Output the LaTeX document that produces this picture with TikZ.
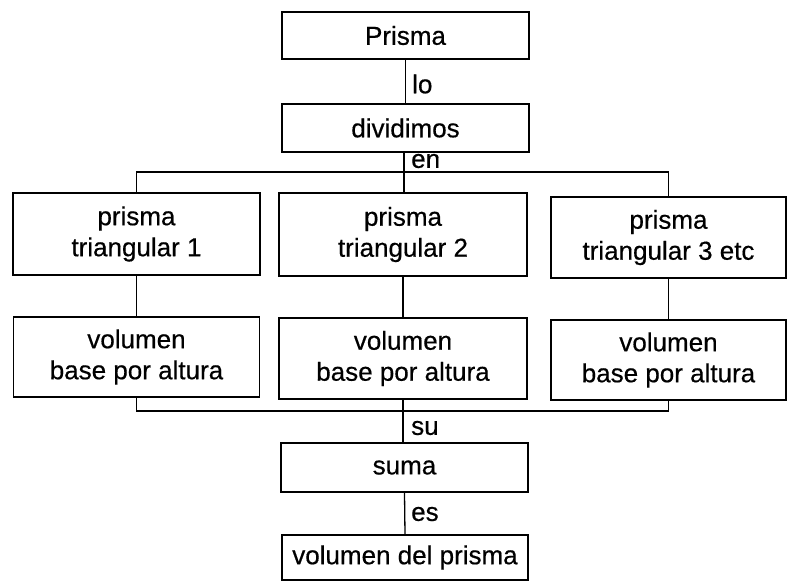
\documentclass[tikz,border=0pt]{standalone}
\usepackage{fontspec}
\newfontfamily\diagfont{Liberation Sans}[BoldFont={Liberation Sans},BoldFeatures={FakeBold=0.5}]
\begin{document}
\begin{tikzpicture}[x=1pt,y=-1pt,
  box/.style={draw=black,line width=1.4pt,rectangle,align=center,inner sep=0pt,
    font=\diagfont\bfseries\fontsize{26}{31}\selectfont},
  conn/.style={draw=black,line width=1.3pt},
  lbl/.style={anchor=west,inner sep=0pt,font=\diagfont\bfseries\fontsize{26}{31}\selectfont}]
\useasboundingbox (0,0) rectangle (788,582);
\node[box,minimum width=247pt,minimum height=47pt] (prisma) at (405.5,35.5) {Prisma};
\node[box,minimum width=247pt,minimum height=48pt] (divid) at (405.5,128) {dividimos};
\node[box,minimum width=247pt,minimum height=82pt] (p1) at (136.5,234) {prisma\\triangular 1};
\node[box,minimum width=248pt,minimum height=83pt] (p2) at (403,234.5) {prisma\\triangular 2};
\node[box,minimum width=235pt,minimum height=81pt] (p3) at (668.5,237.5) {prisma\\triangular 3 etc};
\node[box,minimum width=246pt,minimum height=80pt] (v1) at (136.5,357) {volumen\\base por altura};
\node[box,minimum width=248pt,minimum height=81pt] (v2) at (403,358.5) {volumen\\base por altura};
\node[box,minimum width=235pt,minimum height=80pt] (v3) at (668.5,360) {volumen\\base por altura};
\node[box,minimum width=247pt,minimum height=49pt] (suma) at (404.5,467.5) {suma};
\node[box,minimum width=246pt,minimum height=45pt] (final) at (405,557.5) {volumen del prisma};
\coordinate (bt) at (404,172);
\coordinate (bb) at (403,411);
% top
\draw[conn] (prisma.south) -- (divid.north);
\draw[conn] (divid.south -| bt) -- (bt);
\draw[conn] (p1.north) -- (p1.north |- bt) -- (p3.north |- bt) -- (p3.north);
\draw[conn] (bt) -- (p2.north -| bt);
% middle
\draw[conn] (p1.south) -- (v1.north);
\draw[conn] (p2.south) -- (v2.north);
\draw[conn] (p3.south) -- (v3.north);
% bottom bus
\draw[conn] (v1.south) -- (v1.south |- bb) -- (v3.south |- bb) -- (v3.south);
\draw[conn] (v2.south) -- (bb);
\draw[conn] (bb) -- (suma.north -| bb);
\draw[conn] (suma.south) -- (final.north);
% labels
\node[lbl] (llo) at (412,84) {lo};
\node[lbl] (len) at (411,161) {en};
\node[lbl] (lsu) at (411,428) {su};
\node[lbl] (les) at (411,514) {es};
\end{tikzpicture}
\end{document}
